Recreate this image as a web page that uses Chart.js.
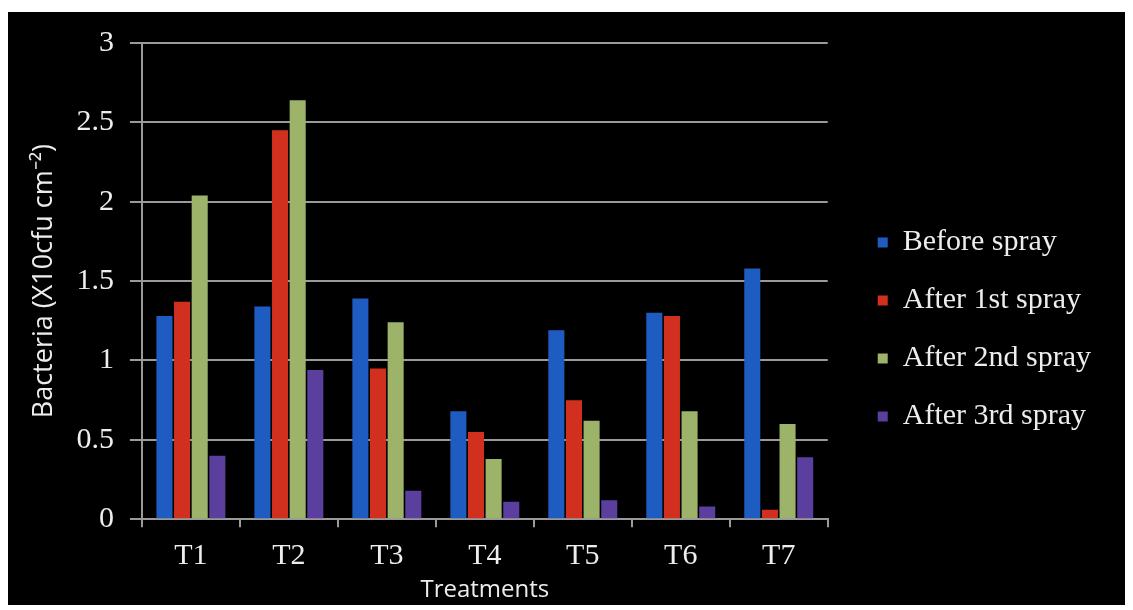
<!DOCTYPE html>
<html>
<head>
<meta charset="utf-8">
<script src="https://cdn.jsdelivr.net/npm/chart.js@4"></script>
<style>
  html, body { margin: 0; padding: 0; background: #fff; }
  #frame { position: absolute; left: 8px; top: 12px; width: 1117px; height: 593px; background: #000; }
</style>
</head>
<body>
<div id="frame"><canvas id="myChart" width="1117" height="593"></canvas></div>
<script>
// data
const categories = ['T1', 'T2', 'T3', 'T4', 'T5', 'T6', 'T7'];
const seriesNames = ['Before spray', 'After 1st spray', 'After 2nd spray', 'After 3rd spray'];
const beforeSpray = [1.28, 1.34, 1.39, 0.68, 1.19, 1.30, 1.58];
const after1st = [1.37, 2.45, 0.95, 0.55, 0.75, 1.28, 0.06];
const after2nd = [2.04, 2.64, 1.24, 0.38, 0.62, 0.68, 0.60];
const after3rd = [0.40, 0.94, 0.18, 0.11, 0.12, 0.08, 0.39];
const yTicks = [0, 0.5, 1, 1.5, 2, 2.5, 3];

const colors = ['#1f5cc2', '#d2301f', '#9db36a', '#5b3f9f'];
const serif = '"Liberation Serif", "DejaVu Serif", serif';
const sans = '"Open Sans", "Liberation Sans", sans-serif';
const textColor = '#ededed';
const gridColor = '#9a9a9a';

const datasets = [beforeSpray, after1st, after2nd, after3rd].map((data, i) => ({
  label: seriesNames[i],
  data,
  backgroundColor: colors[i],
  borderWidth: 0,
  categoryPercentage: 0.72,
  barPercentage: 0.91,
}));

// nudges the legend block after layout (gap to the plot, vertical offset)
const legendShift = {
  id: 'legendShift',
  afterLayout(chart) {
    const lg = chart.legend;
    lg.left += 22; lg.right += 22;
    lg.top += 13; lg.bottom += 13;
  },
};

const ctx = document.getElementById('myChart').getContext('2d');
new Chart(ctx, {
  type: 'bar',
  data: { labels: categories, datasets },
  plugins: [legendShift],
  options: {
    responsive: false,
    animation: false,
    layout: { padding: { top: 16, right: 46, bottom: 0, left: 20 } },
    plugins: {
      tooltip: { enabled: false },
      legend: {
        position: 'right',
        labels: {
          color: textColor,
          font: { family: serif, size: 30 },
          boxWidth: 10,
          boxHeight: 10,
          padding: 28,
        },
      },
    },
    scales: {
      y: {
        min: 0,
        max: 3,
        afterBuildTicks: (axis) => { axis.ticks = yTicks.map((v) => ({ value: v })); },
        ticks: { color: textColor, font: { family: serif, size: 30, lineHeight: 1 }, padding: 16, callback: (v) => String(v) },
        grid: { color: gridColor, lineWidth: 2, tickLength: 12 },
        border: { color: gridColor, width: 2 },
        title: {
          display: true,
          text: 'Bacteria (X10cfu cm⁻²)',
          color: textColor,
          font: { family: sans, size: 27 },
          padding: { top: 0, bottom: 0 },
        },
      },
      x: {
        ticks: { color: textColor, font: { family: serif, size: 30, lineHeight: 1 }, padding: 14 },
        grid: { drawOnChartArea: false, color: gridColor, lineWidth: 2, tickLength: 8 },
        border: { color: gridColor, width: 2 },
        title: {
          display: true,
          text: 'Treatments',
          color: textColor,
          font: { family: sans, size: 24 },
          padding: { top: -9, bottom: 0 },
        },
      },
    },
  },
});
</script>
</body>
</html>
